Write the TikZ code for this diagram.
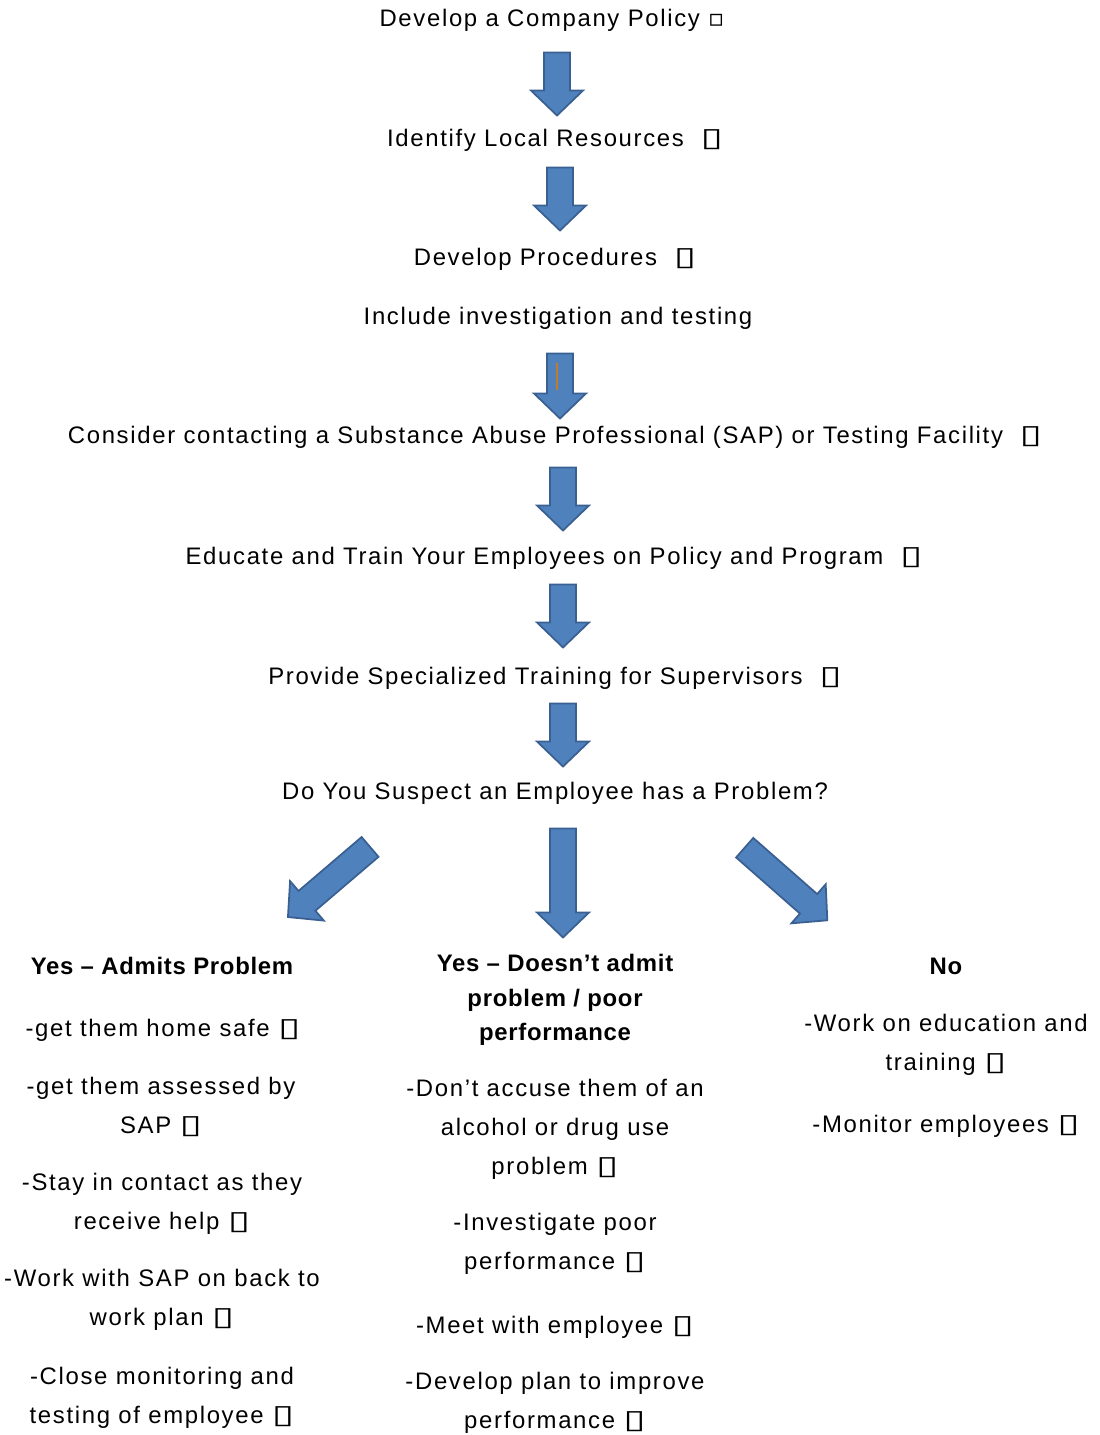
\documentclass[tikz,border=0pt]{standalone}
\usepackage{fontspec}
\setmainfont{Liberation Sans}[LetterSpace=7, BoldFeatures={LetterSpace=3}]
\newfontfamily\boxfont{DejaVu Sans}
\newcommand{\bx}{\scalebox{1.7}[1.1]{\boxfont\bfseries ▯}}
\newcommand{\smbx}{{\boxfont ▫}}
\definecolor{arrowblue}{HTML}{4F81BD}
\definecolor{arrowedge}{HTML}{3A6091}
\definecolor{cursor}{HTML}{C47A2C}
\tikzset{
    txt/.style = {inner sep = 0pt, align = center, font = \fontsize{13.6}{22.2}\selectfont},
    head/.style = {inner sep = 0pt, align = center, font = \bfseries\fontsize{13.6}{19.6}\selectfont},
    pics/blockarrow/.style = {code = {
        \draw [fill = arrowblue, draw = arrowedge, line width = 1pt]
            (-13, -#1/2) -- (13, -#1/2) -- (13, #1/2-25) -- (26, #1/2-25) -- (0, #1/2)
            -- (-26, #1/2-25) -- (-13, #1/2-25) -- cycle;
    }}
}

\begin{document}
\begin{tikzpicture}[x = 0.02cm, y = -0.02cm]
    \useasboundingbox (0, 0) rectangle (1099, 1435);
    % main steps
    \node [txt] (policy) at (552, 20) {Develop a Company Policy \smbx};
    \node [txt] (resources) at (555, 140) {Identify Local Resources \ \bx};
    \node [txt] (procedures) at (555, 259) {Develop Procedures \ \bx};
    \node [txt] (testing) at (558, 318) {Include investigation and testing};
    \node [txt] (sap) at (555, 437) {Consider contacting a Substance Abuse Professional (SAP) or Testing Facility \ \bx};
    \node [txt] (educate) at (554, 558) {Educate and Train Your Employees on Policy and Program \ \bx};
    \node [txt] (supervisors) at (555, 678) {Provide Specialized Training for Supervisors \ \bx};
    \node [txt] (suspect) at (555, 793) {Do You Suspect an Employee has a Problem?};
    % block arrows
    \pic at (557, 84) {blockarrow=63};
    \pic at (560, 199) {blockarrow=63};
    \pic at (560, 386) {blockarrow=65};
    \draw [cursor, line width = 1.2pt] (557, 363) -- (557, 390);
    \pic at (563, 499) {blockarrow=63};
    \pic at (563, 616) {blockarrow=63};
    \pic at (563, 735) {blockarrow=63};
    \pic [rotate = -49.5] at (329, 882) {blockarrow=108};
    \pic at (563, 883) {blockarrow=109};
    \pic [rotate = 48.7] at (786, 884) {blockarrow=110};
    % yes, admits
    \node [head] (admits) at (162, 966) {Yes – Admits Problem};
    \node [txt] (home) at (163, 1030) {-get them home safe \bx};
    \node [txt] (assessed) at (161, 1107) {-get them assessed by\\SAP \bx};
    \node [txt] (contact) at (162, 1204) {-Stay in contact as they\\receive help \bx};
    \node [txt] (backtowork) at (162, 1300) {-Work with SAP on back to\\work plan \bx};
    \node [txt] (monitoring) at (162, 1398) {-Close monitoring and\\testing of employee \bx};
    % yes, does not admit
    \node [head] (noadmit) at (555, 1000) {Yes – Doesn’t admit\\problem / poor\\performance};
    \node [txt] (accuse) at (555, 1129) {-Don’t accuse them of an\\alcohol or drug use\\problem \bx};
    \node [txt] (investigate) at (555, 1244) {-Investigate poor\\performance \bx};
    \node [txt] (meet) at (555, 1327) {-Meet with employee \bx};
    \node [txt] (improve) at (555, 1403) {-Develop plan to improve\\performance \bx};
    % no
    \node [head] (no) at (946, 966) {No};
    \node [txt] (education) at (946, 1045) {-Work on education and\\training \bx};
    \node [txt] (monitor) at (946, 1126) {-Monitor employees \bx};
\end{tikzpicture}
\end{document}
